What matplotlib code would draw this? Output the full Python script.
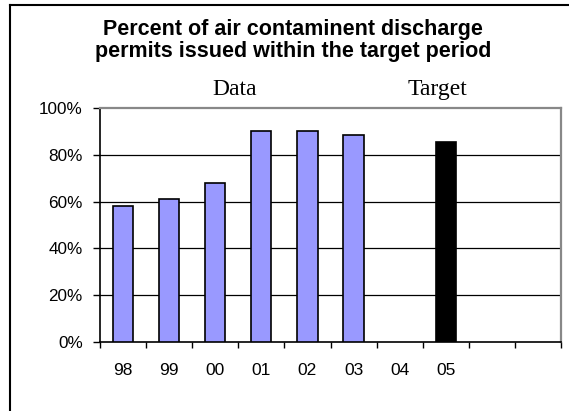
import matplotlib
matplotlib.use("Agg")
import matplotlib.pyplot as plt
from matplotlib.lines import Line2D

categories = ["98", "99", "00", "01", "02", "03", "04", "05", "", ""]
data_values = [58, 61, 68, 90, 90, 88.5]          # years 98-03
target_index = 7
target_value = 85.5
yticks = [0, 20, 40, 60, 80, 100]
ytick_labels = ["0%", "20%", "40%", "60%", "80%", "100%"]

W, H = 569, 411
fig = plt.figure(figsize=(W / 100, H / 100), dpi=100)
ax = fig.add_axes([100 / W, 1 - 342 / H, 461 / W, (342 - 108) / H])

ax.bar(range(len(data_values)), data_values, width=0.44, color="#9999FF",
       edgecolor="black", linewidth=1.2, zorder=3)
ax.bar([target_index], [target_value], width=0.44, color="black",
       edgecolor="black", linewidth=1.2, zorder=3)

ax.set_xlim(-0.5, len(categories) - 0.5)
ax.set_ylim(0, 100)
ax.set_yticks(yticks)
ax.set_yticklabels(ytick_labels, fontfamily="Liberation Sans", fontsize=12.3)
ax.set_xticks([i - 0.5 for i in range(len(categories) + 1)])
ax.set_xticklabels([])
ax.set_xticks(range(len(categories)), minor=True)
ax.set_xticklabels(categories, minor=True, fontfamily="Liberation Sans", fontsize=12.5)
ax.tick_params(axis="x", which="minor", length=0, pad=15)
ax.tick_params(axis="x", which="major", length=4, width=1, color="black", direction="out")
ax.tick_params(axis="y", length=5, width=1, color="black", direction="out", pad=7.5)

for y in yticks[1:-1]:
    ax.axhline(y, color="black", linewidth=0.9, zorder=1)

for s in ("left", "bottom"):
    ax.spines[s].set_color("black")
    ax.spines[s].set_linewidth(1.2)
for s in ("top", "right"):
    ax.spines[s].set_color("#888888")
    ax.spines[s].set_linewidth(1.6)

fig.text(293 / W, 1 - 35 / H, "Percent of air contaminent discharge",
         ha="center", va="baseline", fontfamily="Liberation Sans",
         fontweight="bold", fontsize=15.5)
fig.text(293 / W, 1 - 57 / H, "permits issued within the target period",
         ha="center", va="baseline", fontfamily="Liberation Sans",
         fontweight="bold", fontsize=15.5)
fig.text(234.5 / W, 1 - 95 / H, "Data", ha="center", va="baseline",
         fontfamily="Liberation Serif", fontsize=17)
fig.text(437.5 / W, 1 - 95 / H, "Target", ha="center", va="baseline",
         fontfamily="Liberation Serif", fontsize=17)

fig.add_artist(Line2D([9.5 / W, 9.5 / W], [0, 1 - 5.5 / H], transform=fig.transFigure,
                      color="black", linewidth=1.5))
fig.add_artist(Line2D([9.5 / W, 1], [1 - 5.5 / H, 1 - 5.5 / H], transform=fig.transFigure,
                      color="black", linewidth=1.5))

fig.savefig("out.png", dpi=100)
